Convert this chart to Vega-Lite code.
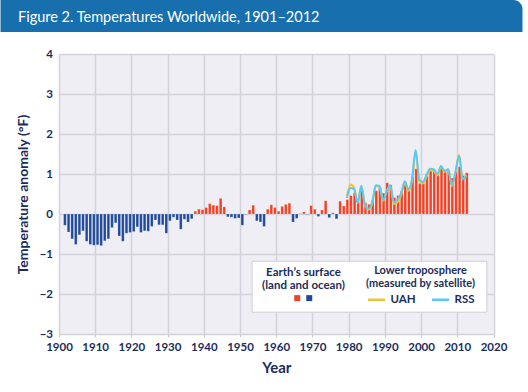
{
  "$schema": "https://vega.github.io/schema/vega-lite/v6.json",
  "padding": 0,
  "background": "white",
  "spacing": 16,
  "config": {
    "font": "Lato",
    "view": {"stroke": null},
    "axis": {
      "labelFont": "Lato", "labelFontWeight": "bold", "labelColor": "#1c2d5b", "labelFontSize": 11.5,
      "titleFont": "Lato", "titleFontWeight": "bold", "titleColor": "#1c2d5b",
      "gridColor": "#d3d1da", "gridWidth": 1.5, "domain": false,
      "tickColor": "#c8c6d0", "tickSize": 3, "tickWidth": 1,
      "labelOverlap": false, "labelFlush": false
    },
    "axisX": {"labelOverlap": false},
    "axisBottom": {"labelOverlap": false},
    "axisTemporal": {"labelOverlap": false},
    "axisY": {"labelOverlap": false},
    "axisLeft": {"labelOverlap": false},
    "axisQuantitative": {"labelOverlap": false},
    "legend": {
      "titleFont": "Lato", "titleFontWeight": "bold", "titleColor": "#1c2d5b", "titleFontSize": 11.5,
      "labelFont": "Lato", "labelFontWeight": "bold", "labelColor": "#1c2d5b", "labelFontSize": 11.5,
      "padding": 0
    }
  },
  "datasets": {
    "surface": [
      {"year":"1901","anomaly":-0.28,"sign":"cooler"},{"year":"1902","anomaly":-0.45,"sign":"cooler"},{"year":"1903","anomaly":-0.62,"sign":"cooler"},{"year":"1904","anomaly":-0.76,"sign":"cooler"},{"year":"1905","anomaly":-0.52,"sign":"cooler"},{"year":"1906","anomaly":-0.42,"sign":"cooler"},{"year":"1907","anomaly":-0.68,"sign":"cooler"},{"year":"1908","anomaly":-0.76,"sign":"cooler"},{"year":"1909","anomaly":-0.78,"sign":"cooler"},{"year":"1910","anomaly":-0.77,"sign":"cooler"},
      {"year":"1911","anomaly":-0.79,"sign":"cooler"},{"year":"1912","anomaly":-0.67,"sign":"cooler"},{"year":"1913","anomaly":-0.62,"sign":"cooler"},{"year":"1914","anomaly":-0.34,"sign":"cooler"},{"year":"1915","anomaly":-0.22,"sign":"cooler"},{"year":"1916","anomaly":-0.55,"sign":"cooler"},{"year":"1917","anomaly":-0.68,"sign":"cooler"},{"year":"1918","anomaly":-0.48,"sign":"cooler"},{"year":"1919","anomaly":-0.46,"sign":"cooler"},{"year":"1920","anomaly":-0.44,"sign":"cooler"},
      {"year":"1921","anomaly":-0.32,"sign":"cooler"},{"year":"1922","anomaly":-0.46,"sign":"cooler"},{"year":"1923","anomaly":-0.42,"sign":"cooler"},{"year":"1924","anomaly":-0.43,"sign":"cooler"},{"year":"1925","anomaly":-0.31,"sign":"cooler"},{"year":"1926","anomaly":-0.15,"sign":"cooler"},{"year":"1927","anomaly":-0.27,"sign":"cooler"},{"year":"1928","anomaly":-0.27,"sign":"cooler"},{"year":"1929","anomaly":-0.48,"sign":"cooler"},{"year":"1930","anomaly":-0.17,"sign":"cooler"},
      {"year":"1931","anomaly":-0.08,"sign":"cooler"},{"year":"1932","anomaly":-0.15,"sign":"cooler"},{"year":"1933","anomaly":-0.38,"sign":"cooler"},{"year":"1934","anomaly":-0.13,"sign":"cooler"},{"year":"1935","anomaly":-0.2,"sign":"cooler"},{"year":"1936","anomaly":-0.12,"sign":"cooler"},{"year":"1937","anomaly":0.07,"sign":"warmer"},{"year":"1938","anomaly":0.12,"sign":"warmer"},{"year":"1939","anomaly":0.11,"sign":"warmer"},{"year":"1940","anomaly":0.16,"sign":"warmer"},
      {"year":"1941","anomaly":0.26,"sign":"warmer"},{"year":"1942","anomaly":0.22,"sign":"warmer"},{"year":"1943","anomaly":0.21,"sign":"warmer"},{"year":"1944","anomaly":0.39,"sign":"warmer"},{"year":"1945","anomaly":0.18,"sign":"warmer"},{"year":"1946","anomaly":-0.07,"sign":"cooler"},{"year":"1947","anomaly":-0.08,"sign":"cooler"},{"year":"1948","anomaly":-0.11,"sign":"cooler"},{"year":"1949","anomaly":-0.1,"sign":"cooler"},{"year":"1950","anomaly":-0.28,"sign":"cooler"},
      {"year":"1951","anomaly":-0.01,"sign":"cooler"},{"year":"1952","anomaly":0.1,"sign":"warmer"},{"year":"1953","anomaly":0.22,"sign":"warmer"},{"year":"1954","anomaly":-0.17,"sign":"cooler"},{"year":"1955","anomaly":-0.2,"sign":"cooler"},{"year":"1956","anomaly":-0.31,"sign":"cooler"},{"year":"1957","anomaly":0.12,"sign":"warmer"},{"year":"1958","anomaly":0.23,"sign":"warmer"},{"year":"1959","anomaly":0.16,"sign":"warmer"},{"year":"1960","anomaly":0.07,"sign":"warmer"},
      {"year":"1961","anomaly":0.19,"sign":"warmer"},{"year":"1962","anomaly":0.24,"sign":"warmer"},{"year":"1963","anomaly":0.27,"sign":"warmer"},{"year":"1964","anomaly":-0.2,"sign":"cooler"},{"year":"1965","anomaly":-0.11,"sign":"cooler"},{"year":"1966","anomaly":0.01,"sign":"warmer"},{"year":"1967","anomaly":0.05,"sign":"warmer"},{"year":"1968","anomaly":-0.01,"sign":"cooler"},{"year":"1969","anomaly":0.21,"sign":"warmer"},{"year":"1970","anomaly":0.12,"sign":"warmer"},
      {"year":"1971","anomaly":-0.06,"sign":"cooler"},{"year":"1972","anomaly":0.1,"sign":"warmer"},{"year":"1973","anomaly":0.33,"sign":"warmer"},{"year":"1974","anomaly":-0.09,"sign":"cooler"},{"year":"1975","anomaly":0.03,"sign":"warmer"},{"year":"1976","anomaly":-0.12,"sign":"cooler"},{"year":"1977","anomaly":0.32,"sign":"warmer"},{"year":"1978","anomaly":0.2,"sign":"warmer"},{"year":"1979","anomaly":0.36,"sign":"warmer"},{"year":"1980","anomaly":0.46,"sign":"warmer"},
      {"year":"1981","anomaly":0.53,"sign":"warmer"},{"year":"1982","anomaly":0.3,"sign":"warmer"},{"year":"1983","anomaly":0.58,"sign":"warmer"},{"year":"1984","anomaly":0.28,"sign":"warmer"},{"year":"1985","anomaly":0.24,"sign":"warmer"},{"year":"1986","anomaly":0.35,"sign":"warmer"},{"year":"1987","anomaly":0.58,"sign":"warmer"},{"year":"1988","anomaly":0.66,"sign":"warmer"},{"year":"1989","anomaly":0.52,"sign":"warmer"},{"year":"1990","anomaly":0.78,"sign":"warmer"},
      {"year":"1991","anomaly":0.73,"sign":"warmer"},{"year":"1992","anomaly":0.41,"sign":"warmer"},{"year":"1993","anomaly":0.46,"sign":"warmer"},{"year":"1994","anomaly":0.57,"sign":"warmer"},{"year":"1995","anomaly":0.8,"sign":"warmer"},{"year":"1996","anomaly":0.6,"sign":"warmer"},{"year":"1997","anomaly":0.93,"sign":"warmer"},{"year":"1998","anomaly":1.13,"sign":"warmer"},{"year":"1999","anomaly":0.76,"sign":"warmer"},{"year":"2000","anomaly":0.76,"sign":"warmer"},
      {"year":"2001","anomaly":0.96,"sign":"warmer"},{"year":"2002","anomaly":1.07,"sign":"warmer"},{"year":"2003","anomaly":1.1,"sign":"warmer"},{"year":"2004","anomaly":1.02,"sign":"warmer"},{"year":"2005","anomaly":1.16,"sign":"warmer"},{"year":"2006","anomaly":1.07,"sign":"warmer"},{"year":"2007","anomaly":1.09,"sign":"warmer"},{"year":"2008","anomaly":0.9,"sign":"warmer"},{"year":"2009","anomaly":1.05,"sign":"warmer"},{"year":"2010","anomaly":1.18,"sign":"warmer"},
      {"year":"2011","anomaly":0.96,"sign":"warmer"},{"year":"2012","anomaly":1.03,"sign":"warmer"}
    ],
    "satellite": [
      {"year":"1979","series":"UAH","anomaly":0.46},{"year":"1980","series":"UAH","anomaly":0.74},{"year":"1981","series":"UAH","anomaly":0.66},{"year":"1982","series":"UAH","anomaly":0.28},{"year":"1983","series":"UAH","anomaly":0.7},{"year":"1984","series":"UAH","anomaly":0.22},{"year":"1985","series":"UAH","anomaly":0.11},{"year":"1986","series":"UAH","anomaly":0.26},{"year":"1987","series":"UAH","anomaly":0.7},{"year":"1988","series":"UAH","anomaly":0.68},{"year":"1989","series":"UAH","anomaly":0.33},{"year":"1990","series":"UAH","anomaly":0.56},{"year":"1991","series":"UAH","anomaly":0.7},{"year":"1992","series":"UAH","anomaly":0.25},{"year":"1993","series":"UAH","anomaly":0.3},{"year":"1994","series":"UAH","anomaly":0.48},{"year":"1995","series":"UAH","anomaly":0.78},{"year":"1996","series":"UAH","anomaly":0.58},{"year":"1997","series":"UAH","anomaly":0.82},{"year":"1998","series":"UAH","anomaly":1.55},{"year":"1999","series":"UAH","anomaly":0.82},{"year":"2000","series":"UAH","anomaly":0.76},{"year":"2001","series":"UAH","anomaly":0.93},{"year":"2002","series":"UAH","anomaly":1.1},{"year":"2003","series":"UAH","anomaly":1.08},{"year":"2004","series":"UAH","anomaly":0.96},{"year":"2005","series":"UAH","anomaly":1.18},{"year":"2006","series":"UAH","anomaly":1.05},{"year":"2007","series":"UAH","anomaly":1.12},{"year":"2008","series":"UAH","anomaly":0.7},{"year":"2009","series":"UAH","anomaly":1.05},{"year":"2010","series":"UAH","anomaly":1.48},{"year":"2011","series":"UAH","anomaly":0.88},{"year":"2012","series":"UAH","anomaly":0.97},
      {"year":"1979","series":"RSS","anomaly":0.4},{"year":"1980","series":"RSS","anomaly":0.65},{"year":"1981","series":"RSS","anomaly":0.62},{"year":"1982","series":"RSS","anomaly":0.27},{"year":"1983","series":"RSS","anomaly":0.7},{"year":"1984","series":"RSS","anomaly":0.22},{"year":"1985","series":"RSS","anomaly":0.13},{"year":"1986","series":"RSS","anomaly":0.3},{"year":"1987","series":"RSS","anomaly":0.72},{"year":"1988","series":"RSS","anomaly":0.7},{"year":"1989","series":"RSS","anomaly":0.35},{"year":"1990","series":"RSS","anomaly":0.58},{"year":"1991","series":"RSS","anomaly":0.72},{"year":"1992","series":"RSS","anomaly":0.3},{"year":"1993","series":"RSS","anomaly":0.36},{"year":"1994","series":"RSS","anomaly":0.52},{"year":"1995","series":"RSS","anomaly":0.82},{"year":"1996","series":"RSS","anomaly":0.62},{"year":"1997","series":"RSS","anomaly":0.88},{"year":"1998","series":"RSS","anomaly":1.6},{"year":"1999","series":"RSS","anomaly":0.86},{"year":"2000","series":"RSS","anomaly":0.8},{"year":"2001","series":"RSS","anomaly":0.98},{"year":"2002","series":"RSS","anomaly":1.13},{"year":"2003","series":"RSS","anomaly":1.12},{"year":"2004","series":"RSS","anomaly":1.0},{"year":"2005","series":"RSS","anomaly":1.2},{"year":"2006","series":"RSS","anomaly":1.08},{"year":"2007","series":"RSS","anomaly":1.12},{"year":"2008","series":"RSS","anomaly":0.72},{"year":"2009","series":"RSS","anomaly":1.05},{"year":"2010","series":"RSS","anomaly":1.45},{"year":"2011","series":"RSS","anomaly":0.86},{"year":"2012","series":"RSS","anomaly":0.95}
    ]
  },
  "vconcat": [
    {
      "width": 434.5,
      "height": 32,
      "data": {"values": [{}]},
      "mark": {"type": "rect", "fill": "#176fae", "cornerRadiusTopRight": 9},
      "encoding": {
        "x": {
          "datum": -0.1346, "type": "quantitative",
          "scale": {"domain": [0, 1], "nice": false, "zero": false},
          "axis": {
            "orient": "top", "domain": false, "ticks": false, "labels": false, "grid": false, "values": [],
            "zindex": 2,
            "title": "Figure 2. Temperatures Worldwide, 1901–2012",
            "titleX": -41.5, "titleY": 21, "titleAlign": "left", "titleAnchor": "start", "titleBaseline": "alphabetic",
            "titleAngle": 0,
            "titleColor": "white", "titleFont": "Lato", "titleFontSize": 14.5, "titleFontWeight": "normal"
          }
        },
        "x2": {"datum": 1.0667}
      }
    },
    {
      "width": 434.5,
      "height": 280,
      "view": {"fill": "#f0eef5", "stroke": null},
      "layer": [
        {
          "data": {"name": "surface"},
          "mark": {"type": "bar", "stroke": "white", "strokeOpacity": 0.35, "strokeWidth": 0.5},
          "encoding": {
            "x": {
              "field": "year", "timeUnit": "utcyear", "type": "temporal",
              "scale": {"type": "utc", "nice": false, "domain": [{"year": 1900, "utc": true}, {"year": 2020, "utc": true}]},
              "axis": {
                "title": "Year", "titleFontSize": 15, "titlePadding": 8, "labelPadding": 4, "format": "%Y",
                "labelOverlap": false, "labelFlush": false, "labelBound": false, "labelSeparation": 0,
                "tickCount": {"interval": "year", "step": 10}
              }
            },
            "y": {
              "field": "anomaly", "type": "quantitative",
              "scale": {"domain": [-3, 4], "nice": false},
              "axis": {
                "title": ["", "Temperature anomaly (°F)"], "titleFontSize": 14, "titleLineHeight": 15,
                "titlePadding": 8.5, "ticks": false, "labelPadding": 6.5,
                "labelOverlap": false, "labelFlush": false, "labelBound": false,
                "tickCount": 8, "format": "d"
              }
            },
            "color": {
              "field": "sign", "type": "nominal",
              "scale": {"domain": ["warmer", "cooler"], "range": ["#ef4123", "#1f4a9a"]},
              "legend": {
                "orient": "none", "legendX": 203.5, "legendY": 267, "direction": "horizontal",
                "title": ["Earth’s surface", "(land and ocean)"], "titleAnchor": "middle", "titleAlign": "center",
                "titleLineHeight": 12.5, "titlePadding": 1,
                "labelExpr": "''", "labelOffset": 0, "columnPadding": 0,
                "symbolType": "square", "symbolSize": 36, "symbolStrokeWidth": 0, "symbolOpacity": 1
              }
            }
          }
        },
        {
          "data": {"name": "satellite"},
          "mark": {"type": "line", "interpolate": "monotone", "strokeWidth": 2},
          "encoding": {
            "x": {"field": "year", "timeUnit": "utcyear", "type": "temporal", "bandPosition": 0.5},
            "y": {"field": "anomaly", "type": "quantitative"},
            "stroke": {
              "field": "series", "type": "nominal",
              "scale": {"domain": ["UAH", "RSS"], "range": ["#eec23c", "#5ccaf0"]},
              "legend": {
                "orient": "none", "legendX": 306.5, "legendY": 265, "direction": "horizontal",
                "title": ["Lower troposphere", "(measured by satellite)"], "titleAnchor": "middle", "titleAlign": "center",
                "titleLineHeight": 12.5, "titlePadding": 1, "titleFontSize": 11,
                "labelOffset": 4, "columnPadding": 10,
                "symbolType": "stroke", "symbolSize": 289, "symbolStrokeWidth": 2.5
              }
            }
          }
        },
        {
          "data": {"values": [{}]},
          "mark": {"type": "rect", "fill": "white", "stroke": "#cfcdd6", "strokeWidth": 1},
          "encoding": {
            "x": {"datum": {"year": 1953, "month": 5, "utc": true}, "type": "temporal"},
            "x2": {"datum": {"year": 2018, "month": 3, "utc": true}},
            "y": {"datum": -1.18, "type": "quantitative"},
            "y2": {"datum": -2.455}
          }
        }
      ]
    }
  ]
}
